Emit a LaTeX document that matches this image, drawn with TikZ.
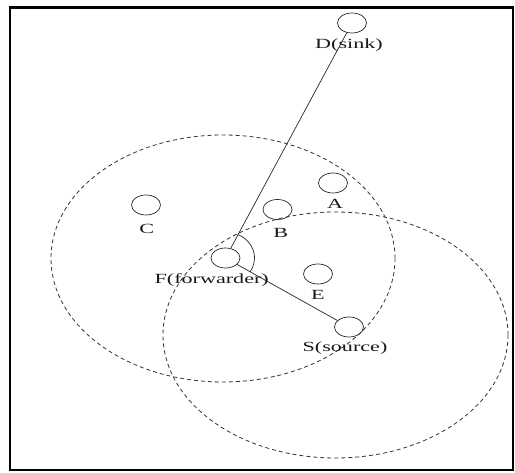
\documentclass[tikz,border=0pt]{standalone}
\usepackage{fontspec}
\setmainfont{Liberation Serif}[FakeStretch=1.58]
\usetikzlibrary{shapes.geometric}
\begin{document}
\begin{tikzpicture}[x=1pt,y=1pt,
  nodeell/.style={draw=black!85, ellipse, minimum width=29pt, minimum height=20pt, inner sep=0pt, line width=0.7pt},
  lbl/.style={anchor=base, inner sep=0pt, font=\fontsize{14}{16}\selectfont, text=black!90},
  rangecirc/.style={draw=black!80, line width=0.8pt, dash pattern=on 4pt off 3pt},
  link/.style={draw=black!85, line width=0.7pt}]
\useasboundingbox (0,0) rectangle (515,473);
% frame
\draw[line width=2.5pt] (10,3) rectangle (513,465.5);
% range circles
\draw[rangecirc] (223,214.5) ellipse [x radius=172, y radius=123.5];
\draw[rangecirc] (335.5,138) ellipse [x radius=172.5, y radius=123];
% nodes
\node[nodeell] (D) at (352,450) {};
\node[nodeell] (A) at (333,290) {};
\node[nodeell] (C) at (146,268) {};
\node[nodeell] (B) at (277.5,263.5) {};
\node[nodeell] (F) at (225.5,215) {};
\node[nodeell] (E) at (318,199) {};
\node[nodeell] (S) at (349,146) {};
% labels
\node[lbl] (Dl) at (349,424.5) {D(sink)};
\node[lbl] (Al) at (335,264.5) {A};
\node[lbl] (Cl) at (146.7,239.5) {C};
\node[lbl] (Bl) at (280.7,235.5) {B};
\node[lbl] (Fl) at (211.7,189.5) {F(forwarder)};
\node[lbl] (El) at (318,173.5) {E};
\node[lbl] (Sl) at (345,121.5) {S(source)};
% links
\draw[link] (F) -- (D);
\draw[link] (F) -- (S);
% angle arc
\draw[link] (F.center) ++(64:29 and 26) arc [start angle=64, end angle=-32, x radius=29, y radius=26];
\end{tikzpicture}
\end{document}
